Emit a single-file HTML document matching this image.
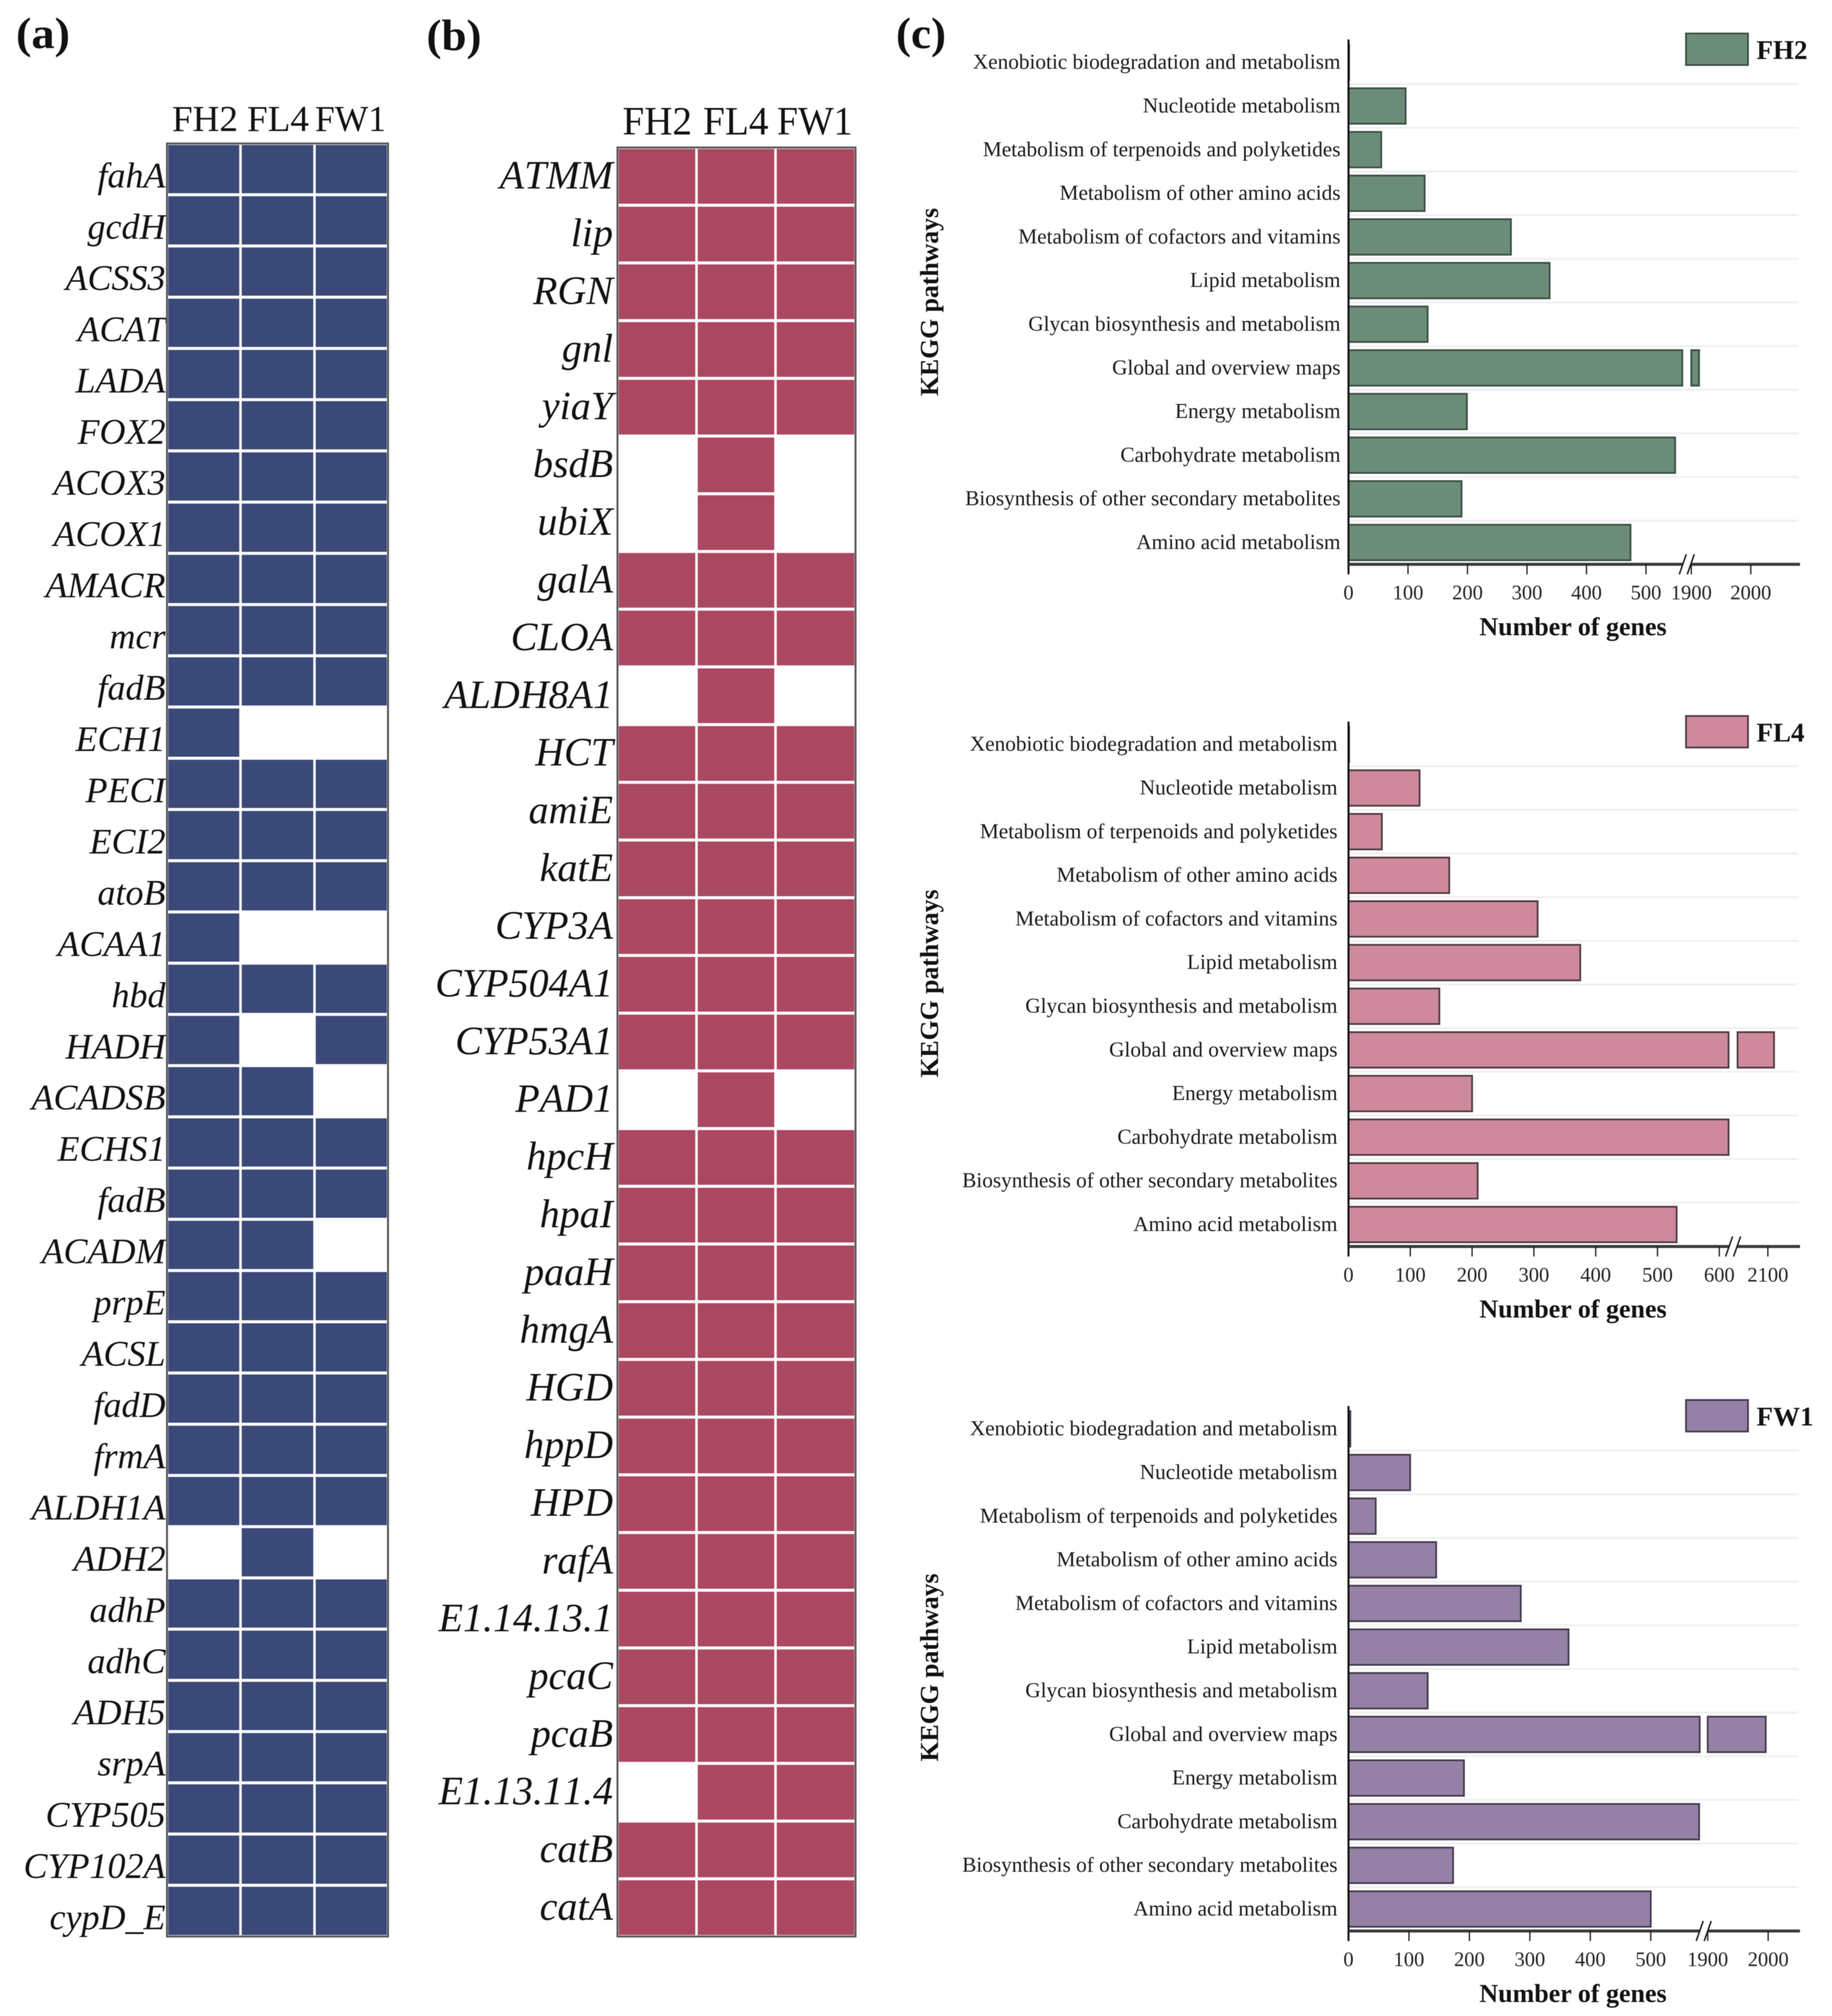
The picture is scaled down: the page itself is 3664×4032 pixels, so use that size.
<!DOCTYPE html>
<html lang="en">
<head>
<meta charset="utf-8">
<title>Gene presence heatmaps and KEGG pathway bars</title>
<style>
html,body{margin:0;padding:0;background:#fff;}
#figure{display:block;width:3664px;height:4032px;font-family:"Liberation Serif",serif;filter:blur(0.7px);}
.gene-label{font-kerning:none;}
</style>
</head>
<body>
<svg id="figure" xmlns="http://www.w3.org/2000/svg" width="3664" height="4032" viewBox="0 0 3664 4032">
  <rect x="0" y="0" width="3664" height="4032" fill="#ffffff"/>
  <text x="32" y="96" font-size="88" font-weight="bold" fill="#111" textLength="108" lengthAdjust="spacingAndGlyphs">(a)</text>
  <text x="853" y="100" font-size="88" font-weight="bold" fill="#111" textLength="110" lengthAdjust="spacingAndGlyphs">(b)</text>
  <text x="1792" y="96" font-size="88" font-weight="bold" fill="#111" textLength="100" lengthAdjust="spacingAndGlyphs">(c)</text>
</svg>
<script>
// ---------- data: heatmap (a) ----------
const sampleNames = ['FH2', 'FL4', 'FW1'];
const genesA = ['fahA','gcdH','ACSS3','ACAT','LADA','FOX2','ACOX3','ACOX1','AMACR','mcr','fadB','ECH1','PECI','ECI2','atoB','ACAA1','hbd','HADH','ACADSB','ECHS1','fadB','ACADM','prpE','ACSL','fadD','frmA','ALDH1A','ADH2','adhP','adhC','ADH5','srpA','CYP505','CYP102A','cypD_E'];
const presenceA = [
  [1,1,1],[1,1,1],[1,1,1],[1,1,1],[1,1,1],[1,1,1],[1,1,1],[1,1,1],[1,1,1],[1,1,1],[1,1,1],
  [1,0,0],[1,1,1],[1,1,1],[1,1,1],[1,0,0],[1,1,1],[1,0,1],[1,1,0],[1,1,1],[1,1,1],[1,1,0],
  [1,1,1],[1,1,1],[1,1,1],[1,1,1],[1,1,1],[0,1,0],[1,1,1],[1,1,1],[1,1,1],[1,1,1],[1,1,1],[1,1,1],[1,1,1]
];
// ---------- data: heatmap (b) ----------
const genesB = ['ATMM','lip','RGN','gnl','yiaY','bsdB','ubiX','galA','CLOA','ALDH8A1','HCT','amiE','katE','CYP3A','CYP504A1','CYP53A1','PAD1','hpcH','hpaI','paaH','hmgA','HGD','hppD','HPD','rafA','E1.14.13.1','pcaC','pcaB','E1.13.11.4','catB','catA'];
const presenceB = [
  [1,1,1],[1,1,1],[1,1,1],[1,1,1],[1,1,1],[0,1,0],[0,1,0],[1,1,1],[1,1,1],[0,1,0],[1,1,1],
  [1,1,1],[1,1,1],[1,1,1],[1,1,1],[1,1,1],[0,1,0],[1,1,1],[1,1,1],[1,1,1],[1,1,1],[1,1,1],
  [1,1,1],[1,1,1],[1,1,1],[1,1,1],[1,1,1],[1,1,1],[0,1,1],[1,1,1],[1,1,1]
];
// ---------- data: KEGG bars (c) ----------
const pathways = ['Xenobiotic biodegradation and metabolism','Nucleotide metabolism','Metabolism of terpenoids and polyketides','Metabolism of other amino acids','Metabolism of cofactors and vitamins','Lipid metabolism','Glycan biosynthesis and metabolism','Global and overview maps','Energy metabolism','Carbohydrate metabolism','Biosynthesis of other secondary metabolites','Amino acid metabolism'];
const valuesFH2 = [1, 96, 55, 128, 273, 338, 133, 1913, 199, 549, 190, 474];
const valuesFL4 = [1, 115, 54, 163, 306, 375, 147, 2110, 200, 615, 209, 531];
const valuesFW1 = [3, 102, 45, 145, 285, 364, 131, 1996, 191, 580, 173, 500];
const ticksFH2 = [0, 100, 200, 300, 400, 500, 1900, 2000];
const ticksFL4 = [0, 100, 200, 300, 400, 500, 600, 2100];
const ticksFW1 = [0, 100, 200, 300, 400, 500, 1900, 2000];
const axisTitle = 'Number of genes';
const pathwayAxisTitle = 'KEGG pathways';

// ---------- layout ----------
const svg = document.getElementById('figure');
const NS = 'http://www.w3.org/2000/svg';
function make(tag, attrs, text, parent) {
  const node = document.createElementNS(NS, tag);
  Object.keys(attrs).forEach(function (k) { node.setAttribute(k, attrs[k]); });
  if (text !== undefined && text !== null) node.textContent = text;
  (parent || svg).appendChild(node);
  return node;
}

const heatA = {key:'a', left:334, right:776, seps:[481,629], top:287, bottom:3873, fill:'#3a4978',
  labelEnd:331, labelDrop:88, labelSize:72, headerBase:262, headerSize:73,
  headers:[[344,132],[494,124],[630,142]]};
const heatB = {key:'b', left:1235, right:1711, seps:[1393,1551], top:295, bottom:3873, fill:'#ab4861',
  labelEnd:1226, labelDrop:82, labelSize:80, headerBase:269, headerSize:81,
  headers:[[1245,139],[1406,131],[1554,151]]};

function drawHeatmap(layout, genes, presence) {
  const group = make('g', {});
  
  
  const edges = [layout.left, layout.seps[0], layout.seps[1], layout.right];
  const rowH = (layout.bottom - layout.top) / genes.length;
  const yRow = function (i) { return layout.top + i * rowH; };
  sampleNames.forEach(function (name, c) {
    const h = make('text', {x: layout.headers[c][0], y: layout.headerBase, 'font-size': layout.headerSize, fill: '#111',
      textLength: layout.headers[c][1], lengthAdjust: 'spacingAndGlyphs'}, name, group);
    
    
  });
  genes.forEach(function (gene, r) {
    const label = make('text', {class: 'gene-label', x: layout.labelEnd, y: yRow(r) + layout.labelDrop, 'font-size': layout.labelSize,
      'font-style': 'italic', 'text-anchor': 'end', fill: '#111'}, gene, group);
    
    
    presence[r].forEach(function (present, c) {
      if (!present) return;
      const cell = make('rect', {x: edges[c] + 2.5, y: yRow(r) + 3, width: edges[c + 1] - edges[c] - 5, height: rowH - 6, fill: layout.fill}, null, group);
      
      
    });
  });
  const frame = make('rect', {x: layout.left, y: layout.top, width: layout.right - layout.left, height: layout.bottom - layout.top,
    fill: 'none', stroke: '#5a5a5a', 'stroke-width': 4}, null, group);
  
  
}
drawHeatmap(heatA, genesA, presenceA);
drawHeatmap(heatB, genesB, presenceB);

const X0 = 2697, GRID_RIGHT = 3597, AXIS_RIGHT = 3600, ROW_STEP = 87.3, BAR_H = 71;
const panelFH2 = {key:'FH2', row0:124.7, axisY:1128.6, axisTop:79, labelEnd:2681, fill:'#6b8c78', edge:'#3b4f44',
  k:1.19, lowMax:561, highMin:1900, gap:18, legendTop:67, keggMid:604};
const panelFL4 = {key:'FL4', row0:1488.7, axisY:2493, axisTop:1443, labelEnd:2675, fill:'#cf899c', edge:'#4d3a41',
  k:1.236, lowMax:615, highMin:2051, gap:18, legendTop:1432, keggMid:1967};
const panelFW1 = {key:'FW1', row0:2857.7, axisY:3862, axisTop:2812, labelEnd:2675, fill:'#9481a5', edge:'#443a4d',
  k:1.209, lowMax:581, highMin:1900, gap:16, legendTop:2800, keggMid:3335};

function drawBars(p, values, ticks) {
  const group = make('g', {});
  
  
  const xScale = function (v) {
    if (v <= p.lowMax) return X0 + v * p.k;
    if (v < p.highMin) return X0 + p.lowMax * p.k;
    return X0 + p.lowMax * p.k + p.gap + (v - p.highMin) * p.k;
  };
  const yRow = function (i) { return p.row0 + i * ROW_STEP; };

  pathways.forEach(function (name, i) {
    if (i > 0) {
      const grid = make('line', {x1: X0 + 3, x2: GRID_RIGHT, y1: yRow(i) - ROW_STEP / 2, y2: yRow(i) - ROW_STEP / 2,
        stroke: '#e2e2e2', 'stroke-width': 4, 'stroke-dasharray': '2 2'}, null, group);
      
      
    }
    const label = make('text', {x: p.labelEnd, y: yRow(i) + 13, 'font-size': 42.5, 'text-anchor': 'end', fill: '#1a1a1a'}, name, group);
    
    

    const v = values[i];
    const lowEnd = Math.min(v, p.lowMax);
    const lowBar = make('rect', {x: xScale(0), y: yRow(i) - BAR_H / 2, width: xScale(lowEnd) - xScale(0), height: BAR_H,
      fill: p.fill, stroke: p.edge, 'stroke-width': 3.5}, null, group);
    
    
    if (v > p.highMin) {
      const highBar = make('rect', {x: xScale(p.highMin), y: yRow(i) - BAR_H / 2, width: xScale(v) - xScale(p.highMin), height: BAR_H,
        fill: p.fill, stroke: p.edge, 'stroke-width': 3.5}, null, group);
      
      
    }
  });

  const yAxis = make('line', {x1: X0, x2: X0, y1: p.axisTop, y2: p.axisY + 20, stroke: '#111', 'stroke-width': 4}, null, group);
  
  
  const xAxis = make('line', {x1: X0, x2: AXIS_RIGHT, y1: p.axisY, y2: p.axisY, stroke: '#3a3a3a', 'stroke-width': 6}, null, group);
  
  

  ticks.forEach(function (t) {
    const tx = xScale(t);
    const tick = make('line', {x1: tx, x2: tx, y1: p.axisY, y2: p.axisY + 20, stroke: '#1a1a1a', 'stroke-width': 2.5}, null, group);
    
    
    const tl = make('text', {x: tx, y: p.axisY + 70, 'font-size': 41, 'text-anchor': 'middle', fill: '#222'}, String(t), group);
    
    
  });

  const breakMid = xScale(p.lowMax) + p.gap / 2;
  const gapMask = make('rect', {x: breakMid - 8, y: p.axisY - 6, width: 16, height: 12, fill: '#ffffff'}, null, group);
  
  
  [-8, 8].forEach(function (dx) {
    const slash = make('line', {x1: breakMid + dx - 7, x2: breakMid + dx + 7, y1: p.axisY + 20, y2: p.axisY - 20, stroke: '#1a1a1a', 'stroke-width': 3}, null, group);
    
    
  });

  const xTitle = make('text', {x: 3146, y: p.axisY + 142, 'font-size': 52, 'font-weight': 'bold', 'text-anchor': 'middle', fill: '#111'}, axisTitle, group);
  
  

  const yTitle = make('text', {x: 0, y: 0, 'font-size': 52, 'font-weight': 'bold', 'text-anchor': 'middle', fill: '#111',
    textLength: 376, lengthAdjust: 'spacingAndGlyphs', transform: 'translate(1876,' + p.keggMid + ') rotate(-90)'}, pathwayAxisTitle, group);
  
  

  const swatch = make('rect', {x: 3372, y: p.legendTop, width: 124, height: 63, fill: p.fill, stroke: p.edge, 'stroke-width': 3.5}, null, group);
  
  
  const legendText = make('text', {x: 3513, y: p.legendTop + 51, 'font-size': 54, 'font-weight': 'bold', fill: '#111'}, p.key, group);
  
  
}
drawBars(panelFH2, valuesFH2, ticksFH2);
drawBars(panelFL4, valuesFL4, ticksFL4);
drawBars(panelFW1, valuesFW1, ticksFW1);
</script>
</body>
</html>
